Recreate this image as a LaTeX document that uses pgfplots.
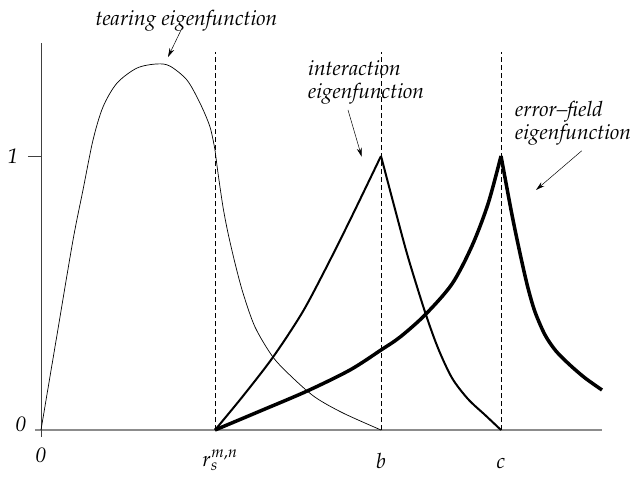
\documentclass[border=0pt]{standalone}
\usepackage[T1]{fontenc}
\usepackage{mathpazo}
\usepackage{pgfplots}
\pgfplotsset{compat=1.18}
\usetikzlibrary{arrows.meta}

\tikzset{
  lbl/.style={font=\fontsize{21}{23}\selectfont\itshape, inner sep=0pt},
  pointer/.style={-{Stealth[length=9pt,width=5pt]}, line width=0.5pt},
}

\begin{document}
\begin{tikzpicture}
\useasboundingbox (-41pt,-47pt) rectangle (595pt,430pt);
\begin{axis}[
  x=1pt, y=274pt,
  anchor=origin, at={(0pt,0pt)},
  xmin=-6, xmax=561, ymin=0, ymax=1.42,
  axis line style={draw=none},
  xtick=\empty, ytick=\empty,
  clip=false,
]
% axes drawn by hand
\draw[black!45, line width=1.6pt] (axis cs:-6,0) -- (axis cs:561,0);
\draw[black!75, line width=0.6pt] (axis cs:0,0) -- (axis cs:0,1.412);
\draw[black!75, line width=0.6pt] (axis cs:-13,1) -- (axis cs:0,1);
\draw[black!75, line width=0.6pt] (axis cs:0,0) -- (axis cs:0,-0.025);

% dashed markers at r_s, b, c
\addplot[black, dash pattern=on 5pt off 3pt, line width=0.6pt] coordinates {(174,0) (174,1.38)};
\addplot[black, dash pattern=on 5pt off 3pt, line width=0.6pt] coordinates {(340,0) (340,1.38)};
\addplot[black, dash pattern=on 5pt off 3pt, line width=0.6pt] coordinates {(460,0) (460,1.38)};

% tearing eigenfunction
\addplot[black, line width=0.7pt, smooth] coordinates {
  (0,0) (16,0.347) (32,0.693) (42,0.876) (52,1.058) (62,1.179) (76,1.266)
  (96,1.321) (116,1.336) (129,1.328) (146,1.277) (159,1.193) (169,1.106) (174,1.022)
};
\addplot[black, line width=0.7pt, smooth] coordinates {
  (174,1.022) (177,0.938) (182,0.814) (187,0.719) (194,0.609) (202,0.5) (214,0.376)
  (232,0.266) (251,0.193) (274,0.120) (302,0.062) (340,0)
};

% interaction eigenfunction
\addplot[black, line width=2pt, smooth] coordinates {
  (174,0) (202,0.124) (232,0.266) (261,0.427) (284,0.584) (309,0.766) (340,1)
};
\addplot[black, line width=2pt, smooth] coordinates {
  (340,1) (354,0.806) (367,0.631) (384,0.431) (397,0.299) (411,0.190) (427,0.113) (444,0.055) (460,0)
};

% error-field eigenfunction
\addplot[black, line width=3.5pt, smooth] coordinates {
  (174,0) (219,0.069) (266,0.142) (309,0.219) (340,0.292) (359,0.339) (384,0.42)
  (411,0.533) (431,0.672) (447,0.825) (460,1)
};
\addplot[black, line width=3.5pt, smooth] coordinates {
  (460,1) (471,0.785) (480,0.628) (487,0.518) (494,0.431) (504,0.347) (515,0.288)
  (529,0.237) (544,0.190) (561,0.146)
};

% tick labels
\node[lbl] at (axis cs:-28,1) {1};
\node[lbl] at (axis cs:-20,0.022) {0};
\node[lbl, anchor=base] at (axis cs:0,-0.120) {0};
\node[lbl, anchor=base] at (axis cs:179,-0.135) {$r_s^{m,n}$};
\node[lbl, anchor=base] at (axis cs:340,-0.140) {$b$};
\node[lbl, anchor=base] at (axis cs:460,-0.140) {$c$};

% annotations
\node[lbl] at (axis cs:145.5,1.493) {tearing eigenfunction};
\draw[pointer] (axis cs:141,1.467) -- (axis cs:127,1.361);
\node[lbl, anchor=west, align=left] at (axis cs:267,1.268) {interaction\\eigenfunction};
\draw[pointer] (axis cs:307,1.168) -- (axis cs:320.7,0.997);
\node[lbl, anchor=west, align=left] at (axis cs:474,1.120) {error--field\\eigenfunction};
\draw[pointer] (axis cs:540.7,1.019) -- (axis cs:495,0.876);
\end{axis}
\end{tikzpicture}
\end{document}
